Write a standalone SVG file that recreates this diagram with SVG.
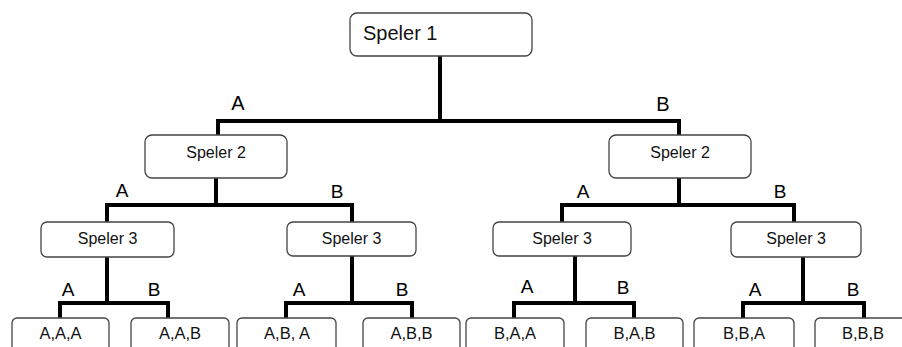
<svg xmlns="http://www.w3.org/2000/svg" width="902" height="347" viewBox="0 0 902 347">
  <style>
    .box { fill: #ffffff; stroke: #444444; stroke-width: 1.3; }
    .lbl { font-family: "Liberation Sans", Arial, sans-serif; fill: #111111; text-anchor: middle; }
    .leaf { font-size: 16.5px; }
    .edge { fill: none; stroke: #000000; stroke-width: 4; stroke-linejoin: miter; stroke-linecap: butt; }
    .choice { font-family: "Liberation Sans", Arial, sans-serif; fill: #000000; text-anchor: middle; }
  </style>
  <rect width="902" height="347" fill="#ffffff"/>

  <!-- tree branches -->
  <g id="connectors">
    <path class="edge" d="M440,56 V121"/>
    <path class="edge" d="M218,135 V121 H679 V135"/>

    <path class="edge" d="M216,178 V205"/>
    <path class="edge" d="M107,222 V205 H352 V222"/>
    <path class="edge" d="M679,178 V205"/>
    <path class="edge" d="M562,222 V205 H794 V222"/>

    <path class="edge" d="M107,257 V303"/>
    <path class="edge" d="M60,318 V303 H168 V318"/>
    <path class="edge" d="M352,256 V303"/>
    <path class="edge" d="M286,318 V303 H412 V318"/>
    <path class="edge" d="M575,256 V303"/>
    <path class="edge" d="M514,318 V303 H634 V318"/>
    <path class="edge" d="M803,257 V303"/>
    <path class="edge" d="M743,318 V303 H864 V318"/>
  </g>

  <!-- branch choices -->
  <g id="choices">
    <text class="choice" x="238" y="110" font-size="20">A</text>
    <text class="choice" x="663" y="111" font-size="20">B</text>
    <text class="choice" x="122" y="197" font-size="19">A</text>
    <text class="choice" x="337" y="198" font-size="19">B</text>
    <text class="choice" x="583" y="198" font-size="19">A</text>
    <text class="choice" x="780" y="198" font-size="19">B</text>
    <text class="choice" x="68" y="296" font-size="19">A</text>
    <text class="choice" x="154" y="296" font-size="19">B</text>
    <text class="choice" x="299" y="296" font-size="19">A</text>
    <text class="choice" x="402" y="296" font-size="19">B</text>
    <text class="choice" x="527" y="293" font-size="19">A</text>
    <text class="choice" x="623" y="294" font-size="19">B</text>
    <text class="choice" x="755" y="296" font-size="19">A</text>
    <text class="choice" x="853" y="296" font-size="19">B</text>
  </g>

  <g id="speler1">
    <rect class="box" x="350" y="13" width="182" height="43" rx="7"/>
    <text class="lbl" x="363" y="40" font-size="20" style="text-anchor:start">Speler 1</text>
  </g>

  <g id="speler2-a">
    <rect class="box" x="145" y="135" width="142" height="43" rx="7"/>
    <text class="lbl" x="216" y="158" font-size="16">Speler 2</text>
  </g>
  <g id="speler2-b">
    <rect class="box" x="609" y="135" width="142" height="43" rx="7"/>
    <text class="lbl" x="680" y="158" font-size="16">Speler 2</text>
  </g>

  <g id="speler3-aa">
    <rect class="box" x="41" y="222" width="133" height="35" rx="6"/>
    <text class="lbl" x="107.5" y="244" font-size="16">Speler 3</text>
  </g>
  <g id="speler3-ab">
    <rect class="box" x="287" y="222" width="129" height="34" rx="6"/>
    <text class="lbl" x="351.5" y="244" font-size="16">Speler 3</text>
  </g>
  <g id="speler3-ba">
    <rect class="box" x="493" y="222" width="138" height="34" rx="6"/>
    <text class="lbl" x="562" y="244" font-size="16">Speler 3</text>
  </g>
  <g id="speler3-bb">
    <rect class="box" x="731" y="222" width="130" height="35" rx="6"/>
    <text class="lbl" x="796" y="244" font-size="16">Speler 3</text>
  </g>

  <g id="leaf-aaa">
    <rect class="box" x="12" y="318" width="97" height="40" rx="5"/>
    <text class="lbl leaf" x="60.5" y="339">A,A,A</text>
  </g>
  <g id="leaf-aab">
    <rect class="box" x="131" y="318" width="98" height="40" rx="5"/>
    <text class="lbl leaf" x="180" y="339">A,A,B</text>
  </g>
  <g id="leaf-aba">
    <rect class="box" x="237" y="318" width="99" height="40" rx="5"/>
    <text class="lbl leaf" x="287" y="339">A,B, A</text>
  </g>
  <g id="leaf-abb">
    <rect class="box" x="363" y="318" width="97" height="40" rx="5"/>
    <text class="lbl leaf" x="411.5" y="339">A,B,B</text>
  </g>
  <g id="leaf-baa">
    <rect class="box" x="466" y="318" width="98" height="40" rx="5"/>
    <text class="lbl leaf" x="515" y="339">B,A,A</text>
  </g>
  <g id="leaf-bab">
    <rect class="box" x="586" y="318" width="97" height="40" rx="5"/>
    <text class="lbl leaf" x="634.5" y="339">B,A,B</text>
  </g>
  <g id="leaf-bba">
    <rect class="box" x="694" y="318" width="100" height="40" rx="5"/>
    <text class="lbl leaf" x="744" y="339">B,B,A</text>
  </g>
  <g id="leaf-bbb">
    <rect class="box" x="815" y="318" width="96" height="40" rx="5"/>
    <text class="lbl leaf" x="863" y="339">B,B,B</text>
  </g>
</svg>
